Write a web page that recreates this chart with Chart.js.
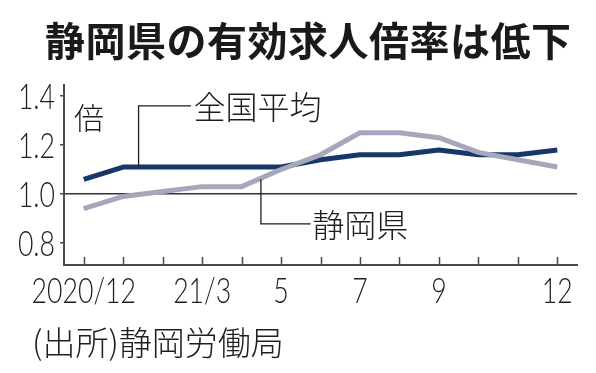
<!DOCTYPE html>
<html>
<head>
<meta charset="utf-8">
<script src="https://cdn.jsdelivr.net/npm/chart.js@4/dist/chart.umd.min.js"></script>
<style>
  html, body { margin: 0; padding: 0; background: #ffffff; }
  #wrap { position: relative; width: 596px; height: 373px; overflow: hidden; background: #fff; }
  #title { position: absolute; left: 45px; top: 19px; font: bold 40px/40px "Noto Sans CJK JP", sans-serif; letter-spacing: 0.5px; color: #1a1a1a; white-space: nowrap; }
  #source { position: absolute; left: 32px; top: 325px; font: 300 33px/33px "Noto Sans CJK JP", sans-serif; color: #1e1e1e; white-space: nowrap; }
  canvas { position: absolute; left: 0; top: 0; }
</style>
</head>
<body>
<div id="wrap">
  <canvas id="c" width="596" height="373"></canvas>
  <div id="title">静岡県の有効求人倍率は低下</div>
  <div id="source">(出所)静岡労働局</div>
</div>
<script>
// ---- data ----
const months = ['2020/12','21/1','21/2','21/3','21/4','21/5','21/6','21/7','21/8','21/9','21/10','21/11','21/12'];
const tickLabels = ['2020/12','','','21/3','','5','','7','','9','','','12'];
const national = [1.06,1.11,1.11,1.11,1.11,1.11,1.14,1.16,1.16,1.18,1.16,1.16,1.18];
const shizuoka = [0.94,0.99,1.01,1.03,1.03,1.10,1.16,1.25,1.25,1.23,1.17,1.14,1.11];
const yTicks = [0.8, 1.0, 1.2, 1.4];
const seriesNames = ['全国平均', '静岡県'];
const unitLabel = '倍';

// ---- styles ----
const NAVY = '#173769';
const GRAY = '#a5a7bc';
const INK = '#1e1e1e';
const AXIS = '#4a4a4a';
const NUM_FONT = '300 36px Lato, "Liberation Sans", sans-serif';
const JP_FONT = '"Noto Sans CJK JP", sans-serif';
const CONDENSE = 0.74;

// leader annotations in data units (x = category index, y = value)
const leaders = [
  { text: seriesNames[0], x: 1.39, yFrom: 1.11, yTo: 1.36, xEnd: 2.72, textX: 2.78 },
  { text: seriesNames[1], x: 4.49, yFrom: 1.06, yTo: 0.878, xEnd: 5.75, textX: 5.79 }
];

function condensedText(ctx, text, x, y, align) {
  ctx.save();
  ctx.translate(x, y);
  ctx.scale(CONDENSE, 1);
  ctx.textAlign = align;
  ctx.fillText(text, 0, 0);
  ctx.restore();
}

const decor = {
  id: 'decor',
  afterDatasetsDraw(chart) {
    const ctx = chart.ctx;
    const xs = chart.scales.x, ys = chart.scales.y;
    const area = chart.chartArea;
    ctx.save();
    // x ticks pointing up into the plot
    ctx.strokeStyle = AXIS;
    ctx.lineWidth = 1.5;
    for (let i = 0; i < months.length; i++) {
      const px = Math.round(xs.getPixelForTick(i)) + 0.5;
      ctx.beginPath();
      ctx.moveTo(px, area.bottom);
      ctx.lineTo(px, area.bottom - 8);
      ctx.stroke();
    }
    // condensed numeric tick labels, placed by the scales
    ctx.fillStyle = INK;
    ctx.font = NUM_FONT;
    ctx.textBaseline = 'middle';
    tickLabels.forEach((t, i) => {
      if (t) condensedText(ctx, t, xs.getPixelForTick(i), area.bottom + 26, 'center');
    });
    yTicks.forEach(v => {
      condensedText(ctx, v.toFixed(1), area.left - 9, ys.getPixelForValue(v) + 1, 'right');
    });
    // leader lines
    ctx.strokeStyle = INK;
    ctx.lineWidth = 1.3;
    ctx.font = '300 32px ' + JP_FONT;
    ctx.textAlign = 'left';
    leaders.forEach(l => {
      const x0 = xs.getPixelForValue(l.x);
      const y0 = ys.getPixelForValue(l.yFrom);
      const y1 = ys.getPixelForValue(l.yTo);
      const x1 = xs.getPixelForValue(l.xEnd);
      ctx.beginPath();
      ctx.moveTo(x0, y0);
      ctx.lineTo(x0, y1);
      ctx.lineTo(x1, y1);
      ctx.stroke();
      ctx.fillText(l.text, xs.getPixelForValue(l.textX), y1 + 1);
    });
    // unit label
    ctx.font = '300 30px ' + JP_FONT;
    ctx.fillText(unitLabel, area.left + 10, ys.getPixelForValue(1.31));
    ctx.restore();
  }
};

new Chart(document.getElementById('c'), {
  type: 'line',
  data: {
    labels: months,
    datasets: [
      { label: seriesNames[1], data: shizuoka, borderColor: GRAY, borderWidth: 5, pointRadius: 0, tension: 0, borderJoinStyle: 'round', borderCapStyle: 'butt', order: 0 },
      { label: seriesNames[0], data: national, borderColor: NAVY, borderWidth: 5, pointRadius: 0, tension: 0, borderJoinStyle: 'round', borderCapStyle: 'butt', order: 1 }
    ]
  },
  options: {
    responsive: false,
    animation: false,
    devicePixelRatio: 1,
    layout: { padding: { top: 85, right: 19, bottom: 0, left: 0 } },
    plugins: { legend: { display: false }, tooltip: { enabled: false }, title: { display: false } },
    scales: {
      x: {
        type: 'category',
        offset: true,
        afterFit(s) { s.height = 108; },
        grid: { display: true, drawOnChartArea: false, drawTicks: false, offset: false },
        border: { display: true, color: AXIS, width: 2 },
        ticks: { display: false, autoSkip: false }
      },
      y: {
        min: 0.71, max: 1.445,
        afterFit(s) { s.width = 64; },
        afterBuildTicks(s) { s.ticks = yTicks.map(v => ({ value: v })); },
        grid: {
          drawOnChartArea: true, drawTicks: true, tickLength: 4,
          color: ctx => (ctx.tick && ctx.tick.value === 1.0) ? '#333333' : 'rgba(0,0,0,0)',
          lineWidth: 1.5,
          tickColor: AXIS, tickWidth: 1.5
        },
        border: { display: true, color: AXIS, width: 2 },
        ticks: { display: false }
      }
    }
  },
  plugins: [decor]
});
</script>
</body>
</html>
